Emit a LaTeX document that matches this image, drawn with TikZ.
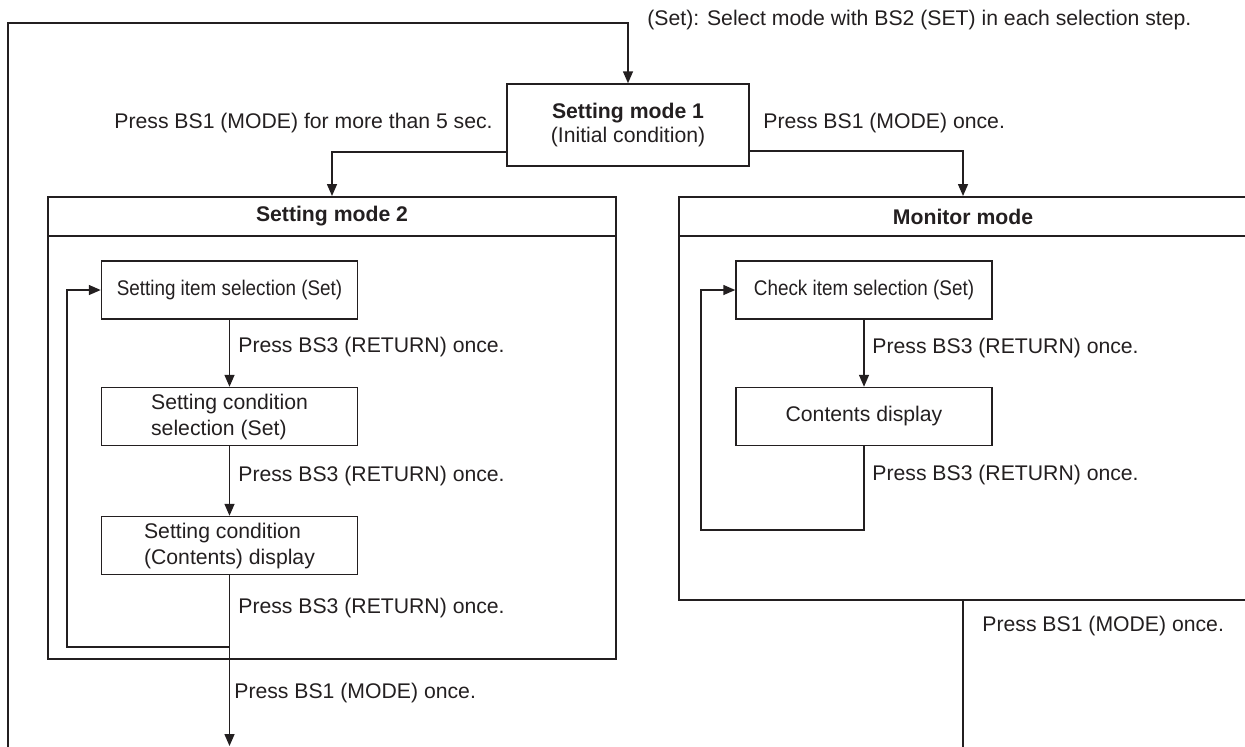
\documentclass[tikz,border=0pt]{standalone}
\usepackage{fontspec}
\setmainfont{Liberation Sans}
\newfontfamily\narrowsf[FakeStretch=0.89]{Liberation Sans}
\usepackage{tikz}
\usetikzlibrary{positioning,arrows.meta,calc}
\definecolor{cink}{HTML}{231F20}
\newcommand{\txtsize}{\fontsize{10.6}{13}\selectfont}

\begin{document}
\begin{tikzpicture}[x=0.5pt,y=-0.5pt,
  every node/.style={text=cink, font=\txtsize},
  stepbox/.style={draw=cink, line width=0.75pt, minimum width=128pt, minimum height=29pt, inner sep=1pt, align=left},
  modebox/.style={draw=cink, line width=1pt, minimum width=284pt, inner sep=0pt},
  headbox/.style={draw=cink, line width=1pt, minimum width=284pt, minimum height=19.5pt, inner sep=0pt, font=\txtsize\bfseries},
  note/.style={anchor=west, inner sep=0pt},
  flow/.style={draw=cink, line width=0.75pt, -{Triangle[width=5pt,length=6pt]}},
  wire/.style={draw=cink, line width=0.75pt}]
  \useasboundingbox (0,0) rectangle (1245,746);

  \node[stepbox, minimum width=121pt, minimum height=41pt, align=center] (sm1) at (628,125) {\textbf{Setting mode 1}\\[-1pt](Initial condition)};

  \node[modebox, minimum height=231pt] (sm2) at (332,428) {};
  \node[headbox] (sm2t) at (332,216.5) {Setting mode 2};
  \node[modebox, minimum height=201.5pt] (mon) at (963,398.5) {};
  \node[headbox] (mont) at (963,216.5) {Monitor mode};

  \node[stepbox] (itemsel) at (229.5,290) {\narrowsf Setting item selection (Set)};
  \node[stepbox] (condsel) at (229.5,416.5) {Setting condition\\selection (Set)};
  \node[stepbox] (condisp) at (229.5,545.5) {Setting condition\\(Contents) display};
  \node[stepbox] (chksel) at (864,290) {\narrowsf Check item selection (Set)};
  \node[stepbox] (contdisp) at (864,416.5) {Contents display};

  \coordinate (retbot) at (8,748);
  \coordinate (rettop) at (628,23);
  \coordinate (loopL) at (67,647);
  \coordinate (loopR) at (701,530);
  \coordinate (outL) at (229.5,746);
  \coordinate (outR) at (963,748);

  \draw[flow] (retbot) |- (rettop) -- (sm1.north);
  \draw[flow] ($(sm1.south west)+(0,-15)$) -| (sm2t.north);
  \draw[flow] ($(sm1.south east)+(0,-16)$) -| (mont.north);
  \draw[flow] (itemsel) -- (condsel);
  \draw[flow] (condsel) -- (condisp);
  \draw[flow] (condisp.south) |- (loopL) |- (itemsel.west);
  \draw[flow] (condisp.south) -- (outL);
  \draw[flow] (chksel) -- (contdisp);
  \draw[flow] (contdisp.south) |- (loopR) |- (chksel.west);
  \draw[wire] (mon.south) -- (outR);

  \node[note] (setnote) at (647,20) {(Set): Select mode with BS2 (SET) in each selection step.};
  \node[note, anchor=east] (lbllong) at (493,123) {Press BS1 (MODE) for more than 5 sec.};
  \node[note] (lblonce) at (763,123) {Press BS1 (MODE) once.};
  \node[note] (lbl1) at (238,347) {Press BS3 (RETURN) once.};
  \node[note] (lbl2) at (238,476) {Press BS3 (RETURN) once.};
  \node[note] (lbl3) at (238,608) {Press BS3 (RETURN) once.};
  \node[note] (lbl4) at (234,693) {Press BS1 (MODE) once.};
  \node[note] (lbl5) at (872,348) {Press BS3 (RETURN) once.};
  \node[note] (lbl6) at (872,475) {Press BS3 (RETURN) once.};
  \node[note] (lbl7) at (982,626) {Press BS1 (MODE) once.};
\end{tikzpicture}
\end{document}
